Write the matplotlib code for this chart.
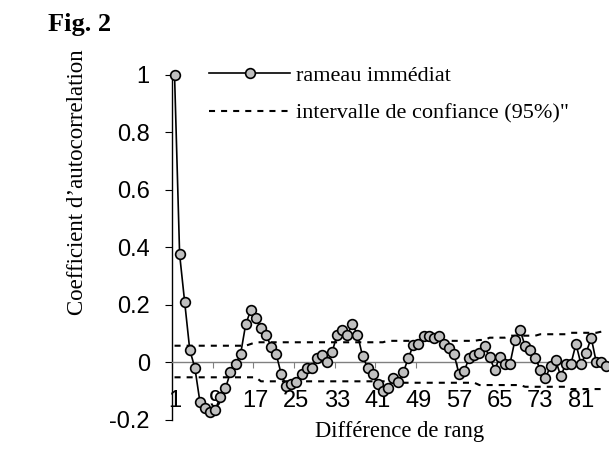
import numpy as np
import matplotlib
matplotlib.use("Agg")
import matplotlib.pyplot as plt

# autocorrelation by rank difference (lag 1 = 1.0)
lags = np.arange(1, 87)
acf = [1.000, 0.375, 0.208, 0.042, -0.020, -0.139, -0.159, -0.173, -0.167, -0.121,
       -0.092, -0.036, -0.008, 0.028, 0.131, 0.181, 0.153, 0.117, 0.096, 0.053,
       0.028, -0.042, -0.083, -0.077, -0.070, -0.042, -0.020, -0.020, 0.015, 0.024,
       -0.001, 0.034, 0.096, 0.111, 0.096, 0.131, 0.096, 0.021, -0.020, -0.042,
       -0.075, -0.100, -0.092, -0.055, -0.069, -0.036, 0.013, 0.060, 0.062, 0.091,
       0.091, 0.083, 0.091, 0.064, 0.050, 0.027, -0.042, -0.031, 0.015, 0.024,
       0.030, 0.056, 0.016, -0.026, 0.016, -0.007, -0.007, 0.077, 0.111, 0.056,
       0.042, 0.015, -0.028, -0.055, -0.014, 0.007, -0.049, -0.007, -0.007, 0.063,
       -0.008, 0.032, 0.085, -0.001, -0.001, -0.014]

# 95% confidence interval, upper and lower bound per lag
ci_upper = [0.057, 0.057, 0.057, 0.057, 0.057, 0.057, 0.057, 0.057, 0.057, 0.057,
            0.057, 0.057, 0.057, 0.057, 0.057, 0.063, 0.069, 0.069, 0.069, 0.069,
            0.069, 0.069, 0.069, 0.069, 0.069, 0.069, 0.069, 0.069, 0.069, 0.069,
            0.069, 0.069, 0.069, 0.069, 0.069, 0.069, 0.069, 0.069, 0.069, 0.069,
            0.069, 0.069, 0.074, 0.074, 0.074, 0.074, 0.074, 0.074, 0.074, 0.074,
            0.074, 0.074, 0.074, 0.074, 0.074, 0.074, 0.074, 0.074, 0.074, 0.074,
            0.077, 0.077, 0.085, 0.085, 0.085, 0.085, 0.092, 0.092, 0.092, 0.092,
            0.092, 0.092, 0.097, 0.097, 0.097, 0.097, 0.097, 0.097, 0.102, 0.102,
            0.102, 0.102, 0.102, 0.102, 0.106, 0.106]
ci_lower = [-0.053, -0.053, -0.053, -0.053, -0.053, -0.053, -0.053, -0.053, -0.053, -0.053,
            -0.053, -0.053, -0.053, -0.053, -0.053, -0.053, -0.053, -0.067, -0.067, -0.067,
            -0.067, -0.067, -0.067, -0.067, -0.067, -0.067, -0.067, -0.067, -0.067, -0.067,
            -0.067, -0.067, -0.067, -0.067, -0.067, -0.067, -0.067, -0.067, -0.067, -0.067,
            -0.067, -0.067, -0.067, -0.072, -0.072, -0.072, -0.072, -0.072, -0.072, -0.072,
            -0.072, -0.072, -0.072, -0.072, -0.072, -0.072, -0.072, -0.072, -0.072, -0.072,
            -0.080, -0.080, -0.080, -0.080, -0.080, -0.080, -0.080, -0.080, -0.080, -0.086,
            -0.086, -0.086, -0.086, -0.086, -0.086, -0.086, -0.086, -0.086, -0.094, -0.094,
            -0.094, -0.094, -0.094, -0.094, -0.094, -0.094]

xtick_labels = ['1', '9', '17', '25', '33', '41', '49', '57', '65', '73', '81']
yticks = [-0.2, 0, 0.2, 0.4, 0.6, 0.8, 1.0]
ytick_labels = ['-0.2', '0', '0.2', '0.4', '0.6', '0.8', '1']

SANS = 'Liberation Sans'
SERIF = 'Liberation Serif'

fig = plt.figure(figsize=(6.09, 4.59), dpi=100)
ax = fig.add_axes([172 / 609, 39.5 / 459, 437 / 609, 344.5 / 459])

ci_line, = ax.plot(lags, ci_upper, color='black', lw=1.5, dashes=(2.9, 2.9),
                   label='intervalle de confiance (95%)"')
ax.plot(lags, ci_lower, color='black', lw=1.5, dashes=(2.9, 2.9))
acf_line, = ax.plot(lags, acf, '-o', color='black', lw=1.2, mfc='#c0c0c0',
                    mec='black', ms=7, mew=1.2, label='rameau immédiat',
                    clip_on=False, zorder=3)

ax.set_xlim(0.5, 86.5)
ax.set_ylim(-0.2, 1.0)

for s in ['top', 'right']:
    ax.spines[s].set_visible(False)
ax.spines['left'].set_linewidth(1.0)
ax.spines['bottom'].set_position(('data', 0))
ax.spines['bottom'].set_color('#808080')
ax.spines['bottom'].set_linewidth(1.0)

# category axis: tick marks between categories, labels every 8
ax.set_xticks(np.arange(0.5, 87, 8))
ax.set_xticklabels([])
ax.tick_params(axis='x', which='major', direction='out', length=4, color='#808080')
ax.set_xticks(lags[::8], minor=True)
ax.set_xticklabels(xtick_labels, minor=True, fontsize=17, family=SANS)
ax.tick_params(axis='x', which='minor', length=0, pad=20)

ax.set_yticks(yticks)
ax.set_yticklabels(ytick_labels, fontsize=17, family=SANS)
ax.tick_params(axis='y', direction='out', length=5, pad=11)

ax.legend(handles=[acf_line, ci_line], loc='upper left',
          bbox_to_anchor=(209 / 609, 1 - 65.5 / 459), bbox_transform=fig.transFigure,
          frameon=False, numpoints=1, handlelength=3.65, handletextpad=0.27,
          labelspacing=0.75, borderpad=0, borderaxespad=0,
          prop={'family': SERIF, 'size': 16})

fig.text(78 / 609, 1 - 182 / 459, 'Coefficient d\u2019autocorrelation', rotation=90,
         ha='center', va='center', fontsize=16.5, family=SERIF)
fig.text(400 / 609, 1 - 432 / 459, 'Différence de rang', ha='center', va='center',
         fontsize=16.3, family=SERIF)
fig.text(48 / 609, 1 - 25 / 459, 'Fig. 2', ha='left', va='center', fontsize=19,
         family=SERIF, fontweight='bold')

fig.savefig('out.png', dpi=100)
